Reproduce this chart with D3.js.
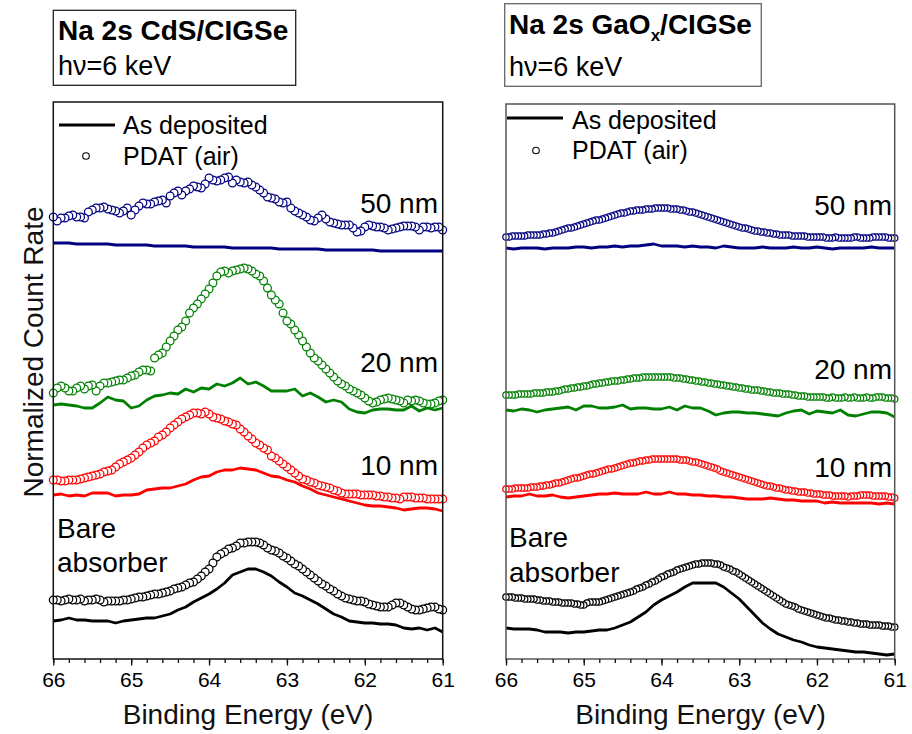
<!DOCTYPE html>
<html>
<head>
<meta charset="utf-8">
<script src="https://cdn.jsdelivr.net/npm/d3@7"></script>
<style>
  html, body { margin: 0; padding: 0; background: #fff; }
  svg { display: block; font-family: "Liberation Sans", Arial, Helvetica, sans-serif; }
</style>
</head>
<body>
<svg id="chart" width="912" height="734"></svg>
<script>
// ---------------------------------------------------------------
// Na 2s HAXPES spectra (hv = 6 keV), normalized count rate (offset
// per sample). Lines: as deposited; circles: after PDAT in air.
// ---------------------------------------------------------------

// binding-energy grids (eV)
const energyLine = d3.range(0, 51).map(i => +(66 - 0.1 * i).toFixed(2));      // as-deposited scans
const energyDotsCdS = d3.range(0, 101).map(i => +(66 - 0.05 * i).toFixed(2)); // PDAT scans, CdS series
const energyDotsGaOx = d3.range(0, 126).map(i => +(66 - 0.04 * i).toFixed(2)); // PDAT scans, GaOx series

const majorTicks = [66, 65, 64, 63, 62, 61];
const minorTicks = d3.range(0, 26).map(i => +(66 - 0.2 * i).toFixed(1));

const thicknessLabels = ["50 nm", "20 nm", "10 nm"];

// ---------------- CdS / CIGSe ----------------
const cds50Line = [
  4.16,4.16,4.16,4.15,4.15,4.15,4.15,4.15,4.14,4.14,
  4.14,4.14,4.14,4.13,4.13,4.13,4.13,4.13,4.12,4.12,
  4.12,4.12,4.12,4.11,4.11,4.11,4.11,4.11,4.11,4.10,
  4.10,4.10,4.10,4.10,4.10,4.09,4.09,4.09,4.09,4.09,
  4.09,4.09,4.08,4.08,4.08,4.08,4.08,4.08,4.08,4.08,
  4.08];
const cds50Dots = [
  4.42,4.38,4.41,4.41,4.43,4.44,4.42,4.42,4.41,4.47,
  4.49,4.51,4.51,4.52,4.50,4.49,4.48,4.46,4.48,4.51,
  4.44,4.49,4.53,4.56,4.55,4.55,4.57,4.58,4.59,4.56,
  4.63,4.66,4.68,4.64,4.68,4.70,4.73,4.72,4.71,4.75,
  4.81,4.79,4.78,4.79,4.81,4.82,4.76,4.79,4.77,4.76,
  4.77,4.74,4.72,4.69,4.66,4.62,4.61,4.60,4.57,4.56,
  4.57,4.51,4.48,4.46,4.44,4.42,4.39,4.38,4.41,4.44,
  4.40,4.37,4.36,4.35,4.34,4.34,4.34,4.31,4.27,4.28,
  4.32,4.34,4.33,4.32,4.32,4.31,4.29,4.30,4.31,4.32,
  4.33,4.33,4.33,4.32,4.29,4.32,4.32,4.31,4.32,4.32,
  4.29];
const cds20Line = [
  2.54,2.55,2.54,2.53,2.51,2.51,2.56,2.62,2.59,2.58,
  2.51,2.53,2.59,2.63,2.64,2.66,2.65,2.70,2.67,2.71,
  2.70,2.75,2.73,2.76,2.81,2.75,2.77,2.73,2.68,2.68,
  2.68,2.70,2.63,2.66,2.62,2.57,2.59,2.57,2.50,2.47,
  2.46,2.49,2.50,2.50,2.49,2.49,2.53,2.48,2.51,2.49,
  2.51];
const cds20Dots = [
  2.66,2.71,2.73,2.71,2.68,2.68,2.71,2.73,2.70,2.73,
  2.74,2.68,2.73,2.76,2.76,2.77,2.78,2.79,2.79,2.81,
  2.83,2.84,2.87,2.89,2.89,2.88,3.01,3.04,3.06,3.12,
  3.18,3.23,3.29,3.32,3.38,3.46,3.51,3.55,3.60,3.65,
  3.70,3.76,3.83,3.87,3.88,3.86,3.88,3.89,3.90,3.91,
  3.90,3.88,3.85,3.83,3.78,3.71,3.64,3.59,3.55,3.46,
  3.38,3.35,3.29,3.24,3.18,3.12,3.06,3.01,2.98,2.94,
  2.90,2.86,2.82,2.78,2.75,2.73,2.70,2.68,2.66,2.64,
  2.61,2.58,2.56,2.57,2.59,2.60,2.61,2.60,2.59,2.58,
  2.56,2.59,2.58,2.59,2.58,2.56,2.55,2.55,2.56,2.58,
  2.59];
const cds10Line = [
  1.64,1.65,1.63,1.64,1.63,1.66,1.66,1.66,1.63,1.64,
  1.64,1.65,1.69,1.70,1.71,1.71,1.73,1.75,1.79,1.82,
  1.83,1.87,1.89,1.89,1.91,1.90,1.89,1.86,1.83,1.82,
  1.79,1.77,1.73,1.70,1.66,1.64,1.62,1.60,1.58,1.56,
  1.54,1.53,1.53,1.52,1.51,1.49,1.50,1.51,1.51,1.50,
  1.48];
const cds10Dots = [
  1.79,1.79,1.78,1.78,1.79,1.79,1.79,1.80,1.81,1.82,
  1.83,1.84,1.85,1.87,1.88,1.89,1.92,1.95,1.97,1.99,
  2.01,2.04,2.07,2.11,2.14,2.16,2.18,2.22,2.24,2.27,
  2.31,2.34,2.37,2.40,2.42,2.44,2.46,2.46,2.45,2.47,
  2.45,2.42,2.41,2.40,2.38,2.37,2.35,2.34,2.30,2.27,
  2.23,2.20,2.16,2.14,2.11,2.09,2.03,2.01,1.98,1.95,
  1.92,1.89,1.86,1.83,1.80,1.79,1.77,1.76,1.74,1.73,
  1.72,1.71,1.69,1.68,1.66,1.65,1.65,1.65,1.65,1.64,
  1.64,1.64,1.64,1.63,1.63,1.62,1.62,1.61,1.61,1.60,
  1.62,1.62,1.62,1.61,1.61,1.61,1.60,1.60,1.60,1.60,
  1.60];
const cdsBareLine = [
  0.38,0.39,0.41,0.39,0.39,0.38,0.38,0.38,0.36,0.38,
  0.39,0.40,0.41,0.41,0.43,0.45,0.49,0.52,0.57,0.61,
  0.65,0.70,0.76,0.84,0.87,0.90,0.90,0.87,0.83,0.77,
  0.72,0.66,0.63,0.59,0.55,0.50,0.45,0.42,0.38,0.37,
  0.36,0.36,0.35,0.35,0.34,0.31,0.30,0.31,0.29,0.31,
  0.27];
const cdsBareDots = [
  0.59,0.59,0.58,0.59,0.60,0.59,0.59,0.60,0.58,0.59,
  0.59,0.60,0.59,0.57,0.58,0.58,0.58,0.58,0.59,0.59,
  0.60,0.61,0.62,0.62,0.63,0.64,0.65,0.65,0.66,0.67,
  0.68,0.70,0.71,0.72,0.74,0.76,0.77,0.80,0.83,0.87,
  0.90,0.96,1.02,1.05,1.07,1.10,1.11,1.13,1.16,1.16,
  1.17,1.17,1.17,1.16,1.14,1.11,1.09,1.08,1.06,1.03,
  1.01,0.98,0.95,0.93,0.90,0.87,0.84,0.81,0.78,0.75,
  0.73,0.70,0.68,0.65,0.63,0.61,0.60,0.59,0.58,0.58,
  0.57,0.55,0.54,0.53,0.52,0.52,0.52,0.54,0.56,0.56,
  0.54,0.52,0.50,0.49,0.49,0.50,0.51,0.52,0.52,0.50,
  0.49];

// ---------------- GaOx / CIGSe ----------------
const gaox50Line = [
  4.11,4.10,4.11,4.11,4.11,4.10,4.11,4.11,4.11,4.12,
  4.12,4.11,4.12,4.12,4.13,4.12,4.13,4.13,4.14,4.15,
  4.13,4.13,4.13,4.12,4.13,4.12,4.12,4.11,4.13,4.12,
  4.11,4.11,4.11,4.12,4.11,4.11,4.11,4.12,4.11,4.11,
  4.12,4.11,4.10,4.11,4.11,4.11,4.11,4.12,4.11,4.11,
  4.11];
const gaox50Dots = [
  4.22,4.22,4.23,4.23,4.23,4.23,4.23,4.24,4.24,4.24,
  4.24,4.24,4.25,4.25,4.26,4.26,4.27,4.28,4.29,4.30,
  4.31,4.31,4.32,4.33,4.34,4.35,4.36,4.37,4.38,4.39,
  4.39,4.40,4.41,4.42,4.43,4.44,4.45,4.46,4.46,4.47,
  4.48,4.48,4.49,4.49,4.49,4.50,4.50,4.50,4.51,4.51,
  4.51,4.51,4.51,4.50,4.50,4.50,4.49,4.49,4.48,4.47,
  4.47,4.46,4.45,4.44,4.43,4.42,4.41,4.40,4.39,4.38,
  4.37,4.36,4.35,4.34,4.33,4.32,4.31,4.31,4.30,4.29,
  4.28,4.28,4.27,4.27,4.26,4.26,4.25,4.25,4.24,4.24,
  4.24,4.24,4.23,4.23,4.23,4.23,4.23,4.22,4.22,4.22,
  4.22,4.22,4.22,4.21,4.21,4.21,4.22,4.21,4.21,4.21,
  4.21,4.21,4.22,4.22,4.21,4.21,4.21,4.21,4.22,4.22,
  4.22,4.22,4.22,4.21,4.21,4.21];
const gaox20Line = [
  2.49,2.48,2.50,2.49,2.47,2.49,2.50,2.51,2.52,2.49,
  2.53,2.53,2.51,2.51,2.52,2.54,2.50,2.51,2.51,2.50,
  2.50,2.52,2.49,2.53,2.51,2.51,2.48,2.44,2.46,2.47,
  2.47,2.46,2.46,2.45,2.44,2.43,2.46,2.48,2.49,2.45,
  2.48,2.47,2.46,2.49,2.44,2.43,2.45,2.47,2.47,2.46,
  2.42];
const gaox20Dots = [
  2.64,2.64,2.64,2.64,2.65,2.65,2.65,2.65,2.65,2.66,
  2.66,2.66,2.66,2.67,2.67,2.67,2.68,2.68,2.69,2.70,
  2.70,2.71,2.71,2.72,2.72,2.73,2.73,2.74,2.75,2.75,
  2.76,2.76,2.77,2.77,2.78,2.78,2.78,2.79,2.79,2.80,
  2.80,2.81,2.81,2.81,2.82,2.82,2.82,2.82,2.82,2.82,
  2.82,2.82,2.82,2.82,2.81,2.81,2.81,2.80,2.80,2.79,
  2.79,2.78,2.78,2.77,2.77,2.76,2.76,2.75,2.75,2.74,
  2.74,2.73,2.73,2.72,2.72,2.71,2.71,2.70,2.70,2.69,
  2.69,2.69,2.68,2.68,2.67,2.67,2.66,2.66,2.66,2.65,
  2.65,2.65,2.64,2.64,2.63,2.63,2.63,2.62,2.62,2.62,
  2.62,2.62,2.62,2.61,2.61,2.62,2.61,2.61,2.61,2.62,
  2.61,2.61,2.62,2.61,2.61,2.61,2.62,2.61,2.61,2.62,
  2.62,2.62,2.61,2.61,2.61,2.60];
const gaox10Line = [
  1.62,1.63,1.63,1.65,1.63,1.63,1.64,1.62,1.61,1.62,
  1.63,1.64,1.65,1.65,1.66,1.65,1.65,1.65,1.67,1.65,
  1.65,1.67,1.65,1.65,1.64,1.64,1.63,1.63,1.62,1.62,
  1.61,1.60,1.60,1.60,1.61,1.60,1.59,1.59,1.58,1.58,
  1.58,1.56,1.57,1.56,1.56,1.56,1.56,1.56,1.55,1.56,
  1.55];
const gaox10Dots = [
  1.70,1.70,1.70,1.71,1.71,1.71,1.71,1.71,1.72,1.72,
  1.72,1.73,1.73,1.74,1.74,1.75,1.76,1.76,1.77,1.78,
  1.79,1.80,1.81,1.81,1.82,1.83,1.84,1.85,1.85,1.86,
  1.87,1.88,1.89,1.90,1.90,1.91,1.92,1.93,1.94,1.95,
  1.96,1.96,1.97,1.98,1.98,1.99,1.99,2.00,2.00,2.00,
  2.00,2.00,2.00,2.00,2.00,2.00,1.99,1.99,1.99,1.98,
  1.97,1.97,1.96,1.95,1.94,1.93,1.92,1.91,1.90,1.88,
  1.87,1.86,1.85,1.84,1.83,1.82,1.81,1.80,1.79,1.78,
  1.77,1.76,1.75,1.74,1.73,1.73,1.72,1.71,1.71,1.70,
  1.69,1.69,1.68,1.68,1.67,1.67,1.67,1.66,1.66,1.65,
  1.65,1.65,1.64,1.64,1.64,1.63,1.63,1.63,1.63,1.63,
  1.62,1.63,1.63,1.63,1.64,1.64,1.64,1.64,1.63,1.63,
  1.63,1.63,1.63,1.62,1.62,1.61];
const gaoxBareLine = [
  0.31,0.30,0.30,0.30,0.29,0.27,0.27,0.27,0.26,0.27,
  0.27,0.28,0.29,0.29,0.31,0.34,0.37,0.42,0.47,0.54,
  0.59,0.63,0.67,0.72,0.76,0.76,0.76,0.76,0.72,0.66,
  0.60,0.52,0.44,0.36,0.30,0.25,0.22,0.19,0.17,0.14,
  0.12,0.11,0.10,0.09,0.08,0.07,0.07,0.06,0.05,0.04,
  0.05];
const gaoxBareDots = [
  0.62,0.62,0.62,0.61,0.61,0.61,0.60,0.60,0.60,0.60,
  0.59,0.59,0.58,0.58,0.58,0.57,0.57,0.57,0.56,0.56,
  0.56,0.56,0.55,0.55,0.54,0.54,0.56,0.57,0.57,0.57,
  0.57,0.58,0.59,0.60,0.61,0.62,0.63,0.64,0.65,0.66,
  0.67,0.68,0.70,0.71,0.72,0.74,0.75,0.77,0.78,0.80,
  0.82,0.83,0.85,0.86,0.87,0.89,0.90,0.91,0.92,0.93,
  0.94,0.95,0.95,0.96,0.96,0.96,0.96,0.95,0.95,0.94,
  0.92,0.91,0.90,0.88,0.87,0.85,0.83,0.81,0.79,0.77,
  0.75,0.73,0.71,0.69,0.67,0.65,0.63,0.61,0.59,0.57,
  0.55,0.54,0.53,0.52,0.50,0.49,0.48,0.47,0.46,0.45,
  0.44,0.43,0.42,0.41,0.41,0.40,0.39,0.39,0.38,0.38,
  0.37,0.37,0.36,0.36,0.35,0.35,0.35,0.34,0.34,0.34,
  0.34,0.33,0.33,0.33,0.32,0.32];

// ---------------------------------------------------------------
const FONT = '"Liberation Sans", Arial, Helvetica, sans-serif';
const NAVY = "#000080", GREEN = "#008000", RED = "#ff0000", BLACK = "#000000";

const panels = [
  {
    left: 53.3, right: 442.7, top: 102, bottom: 659, yMax: 5.57,
    frameColor: "#111", dotR: 3.9, dotEnergy: energyDotsCdS,
    series: [
      { color: BLACK, line: cdsBareLine, dots: cdsBareDots },
      { color: RED,   line: cds10Line,   dots: cds10Dots },
      { color: GREEN, line: cds20Line,   dots: cds20Dots },
      { color: NAVY,  line: cds50Line,   dots: cds50Dots }
    ],
    box: { x: 53.3, y: 10.3, w: 242.4, h: 75, color: "#222" },
    titleX: 58, titleY: 40, subTitleY: 75,
    titleParts: [["Na 2s CdS/CIGSe", false]],
    legend: { lineX1: 59, lineX2: 115, lineY: 125, textX: 123, text1Y: 133.5, dotX: 86, dotY: 156, text2Y: 165 },
    nmLabelX: 438, nmLabelY: [212.5, 371.5, 475],
    bareX: 57, bareY: [537.5, 572],
    xTitleX: 248
  },
  {
    left: 506, right: 894.7, top: 104, bottom: 659, yMax: 5.55,
    frameColor: "#555", dotR: 3.2, dotEnergy: energyDotsGaOx,
    series: [
      { color: BLACK, line: gaoxBareLine, dots: gaoxBareDots },
      { color: RED,   line: gaox10Line,   dots: gaox10Dots },
      { color: GREEN, line: gaox20Line,   dots: gaox20Dots },
      { color: NAVY,  line: gaox50Line,   dots: gaox50Dots }
    ],
    box: { x: 504.7, y: 3.7, w: 256.6, h: 82.6, color: "#666" },
    titleX: 509, titleY: 33.5, subTitleY: 76,
    titleParts: [["Na 2s GaO", false], ["x", true], ["/CIGSe", false]],
    legend: { lineX1: 507, lineX2: 563, lineY: 118, textX: 572, text1Y: 128.5, dotX: 536, dotY: 150.5, text2Y: 158.5 },
    nmLabelX: 892, nmLabelY: [214.5, 378.5, 477],
    bareX: 509, bareY: [547, 582],
    xTitleX: 700.5
  }
];

const svg = d3.select("#chart");

panels.forEach(p => {
  const x = d3.scaleLinear().domain([66, 61]).range([p.left, p.right]);
  const y = d3.scaleLinear().domain([0, p.yMax]).range([p.bottom, p.top]);
  const g = svg.append("g");

  // PDAT spectra: open circles, drawn from low to high binding energy
  p.series.forEach(s => {
    const pts = s.dots.map((v, i) => ({ e: p.dotEnergy[i], v })).reverse();
    g.append("g")
      .selectAll("circle")
      .data(pts)
      .join("circle")
      .attr("cx", d => x(d.e))
      .attr("cy", d => y(d.v))
      .attr("r", p.dotR)
      .attr("fill", "#fff")
      .attr("stroke", s.color)
      .attr("stroke-width", 1.25);
  });

  // as-deposited spectra: solid lines
  const lineGen = d3.line().x(d => x(d.e)).y(d => y(d.v));
  p.series.forEach(s => {
    g.append("path")
      .datum(s.line.map((v, i) => ({ e: energyLine[i], v })))
      .attr("d", lineGen)
      .attr("fill", "none")
      .attr("stroke", s.color)
      .attr("stroke-width", 2.8)
      .attr("stroke-linejoin", "round");
  });

  // frame
  g.append("rect")
    .attr("x", p.left).attr("y", p.top)
    .attr("width", p.right - p.left).attr("height", p.bottom - p.top)
    .attr("fill", "none").attr("stroke", p.frameColor).attr("stroke-width", 1.5);

  // bottom axis: major + minor ticks
  const axMajor = g.append("g").attr("transform", `translate(0,${p.bottom})`)
    .call(d3.axisBottom(x).tickValues(majorTicks).tickSize(6.5).tickPadding(7).tickFormat(d3.format("d")));
  const axMinor = g.append("g").attr("transform", `translate(0,${p.bottom})`)
    .call(d3.axisBottom(x).tickValues(minorTicks).tickSize(4).tickFormat(""));
  [axMajor, axMinor].forEach(a => {
    a.select(".domain").remove();
    a.selectAll(".tick line").attr("stroke", "#111").attr("stroke-width", 1.3);
  });
  axMajor.attr("font-size", 21).attr("font-family", FONT);
  axMajor.selectAll(".tick text")
    .attr("font-family", FONT).attr("font-size", 21).attr("fill", "#000");

  // x-axis title
  g.append("text")
    .attr("x", p.xTitleX).attr("y", 724)
    .attr("text-anchor", "middle")
    .attr("font-family", FONT).attr("font-size", 28).attr("fill", "#111")
    .text("Binding Energy (eV)");

  // title box
  g.append("rect")
    .attr("x", p.box.x).attr("y", p.box.y).attr("width", p.box.w).attr("height", p.box.h)
    .attr("fill", "#fff").attr("stroke", p.box.color).attr("stroke-width", 1.3);
  const t = g.append("text")
    .attr("x", p.titleX).attr("y", p.titleY)
    .attr("font-family", FONT).attr("font-size", 28).attr("font-weight", "bold").attr("fill", "#000");
  p.titleParts.forEach(([txt, sub]) => {
    if (sub) {
      t.append("tspan").attr("font-size", 17).attr("dy", 7).text(txt);
    } else {
      const ts = t.append("tspan").text(txt);
      if (t.selectAll("tspan").size() > 1) ts.attr("dy", -7);
    }
  });
  g.append("text")
    .attr("x", p.titleX).attr("y", p.subTitleY)
    .attr("font-family", FONT).attr("font-size", 27).attr("fill", "#000")
    .text("h\u03bd=6 keV");

  // legend
  const L = p.legend;
  g.append("line")
    .attr("x1", L.lineX1).attr("x2", L.lineX2).attr("y1", L.lineY).attr("y2", L.lineY)
    .attr("stroke", "#000").attr("stroke-width", 2.8);
  g.append("text").attr("x", L.textX).attr("y", L.text1Y)
    .attr("font-family", FONT).attr("font-size", 25).attr("fill", "#000").text("As deposited");
  g.append("circle").attr("cx", L.dotX).attr("cy", L.dotY).attr("r", 3.3)
    .attr("fill", "#fff").attr("stroke", "#000").attr("stroke-width", 1.1);
  g.append("text").attr("x", L.textX).attr("y", L.text2Y)
    .attr("font-family", FONT).attr("font-size", 25).attr("fill", "#000").text("PDAT (air)");

  // layer labels
  thicknessLabels.forEach((lab, i) => {
    g.append("text").attr("x", p.nmLabelX).attr("y", p.nmLabelY[i])
      .attr("text-anchor", "end")
      .attr("font-family", FONT).attr("font-size", 28).attr("fill", "#000").text(lab);
  });
  ["Bare", "absorber"].forEach((lab, i) => {
    g.append("text").attr("x", p.bareX).attr("y", p.bareY[i])
      .attr("font-family", FONT).attr("font-size", 28).attr("fill", "#000").text(lab);
  });
});

// shared y-axis title
svg.append("text")
  .attr("transform", "translate(43,352) rotate(-90)")
  .attr("text-anchor", "middle")
  .attr("font-family", FONT).attr("font-size", 28).attr("fill", "#111")
  .text("Normalized Count Rate");
</script>
</body>
</html>
